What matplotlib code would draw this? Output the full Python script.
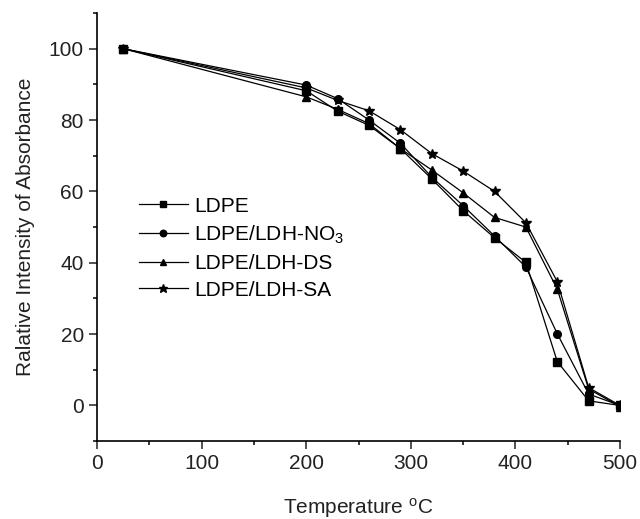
import numpy as np
import matplotlib
matplotlib.use("Agg")
import matplotlib.pyplot as plt
from matplotlib.ticker import MultipleLocator

plt.rcParams['font.family'] = ['Liberation Sans', 'DejaVu Sans']
plt.rcParams['mathtext.default'] = 'regular'

temps = [25, 200, 230, 260, 290, 320, 350, 380, 410, 440, 470, 500]
ldpe = [100, 88.2, 82.5, 78.5, 72.0, 63.5, 54.6, 47.0, 40.1, 12.3, 1.3, 0.0]
ldh_no3 = [100, 89.8, 86.0, 80.0, 73.5, 64.0, 56.0, 47.5, 38.8, 20.1, 3.2, 0.0]
ldh_ds = [100, 86.5, 83.0, 79.0, 72.0, 66.0, 59.6, 52.7, 50.0, 32.6, 4.6, -0.3]
ldh_sa = [100, 89.0, 85.5, 82.6, 77.3, 70.6, 65.7, 60.0, 51.2, 34.7, 5.0, 0.0]

series = [
    (ldpe, 's', 'LDPE'),
    (ldh_no3, 'o', 'LDPE/LDH-NO$_3$'),
    (ldh_ds, '^', 'LDPE/LDH-DS'),
    (ldh_sa, '*', 'LDPE/LDH-SA'),
]

fig = plt.figure(figsize=(6.4, 5.19), dpi=100)
ax = fig.add_axes([0.1516, 0.150, 0.8172, 0.825])

for vals, mk, lab in series:
    ms = 7.5 if mk == '*' else 5.5
    ax.plot(temps, vals, color='black', lw=0.9, marker=mk, ms=ms, label=lab)

ax.set_xlim(0, 500)
ax.set_ylim(-10, 110)
ax.xaxis.set_major_locator(MultipleLocator(100))
ax.xaxis.set_minor_locator(MultipleLocator(50))
ax.yaxis.set_minor_locator(MultipleLocator(10))
ax.set_yticks(range(0, 101, 20))

for s in ['top', 'right']:
    ax.spines[s].set_visible(False)
for s in ['left', 'bottom']:
    ax.spines[s].set_linewidth(1.2)
ax.tick_params(which='major', direction='out', length=5.5, width=1.1, labelsize=15,
               colors='#222222', pad=4)
ax.tick_params(which='minor', direction='out', length=3, width=1.1)

ax.set_xlabel('Temperature $^{o}$C', fontsize=15, labelpad=16, color='#222222')
ax.set_ylabel('Ralative Intensity of Absorbance', fontsize=15, labelpad=10, color='#222222')

ax.legend(loc='upper left', bbox_to_anchor=(0.080, 0.571), frameon=False, fontsize=15,
          handlelength=2.35, handletextpad=0.3, labelspacing=0.38, borderaxespad=0,
          borderpad=0, markerscale=0.85)

fig.savefig('out.png', dpi=100)
